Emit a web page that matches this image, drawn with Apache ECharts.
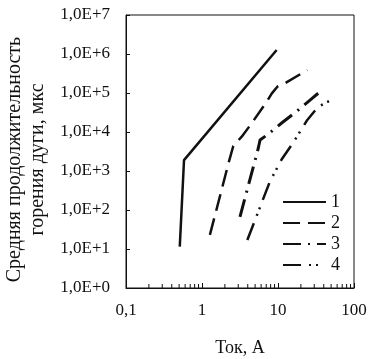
<!DOCTYPE html>
<html>
<head>
<meta charset="utf-8">
<script src="https://cdn.jsdelivr.net/npm/echarts@6/dist/echarts.min.js"></script>
<style>
  html, body { margin: 0; padding: 0; background: #fff; }
  #chart { width: 378px; height: 359px; }
</style>
</head>
<body>
<div id="chart"></div>
<script>
// data (current in A, mean arc duration in µs)
const names = ['1', '2', '3', '4']
const s1 = [[0.51, 11.5], [0.58, 1900], [9.6, 1.27e6]]
const s2 = [[1.27, 23], [2.29, 1910], [2.58, 4370], [3.33, 7600], [4.5, 16700],
    [7.1, 60000], [8.3, 98000], [9.8, 145000], [12.4, 178000], [24.3, 390000]]
const s3 = [[3.16, 67], [5.5, 3830], [5.8, 6230], [7.45, 8900], [11.5, 17800],
    [17.3, 33000], [26.4, 66000], [35.7, 108000]]
const s4 = [[3.95, 17], [7.8, 530], [11.2, 2000], [15.6, 5100], [24.3, 20400],
    [33.9, 44500], [52.5, 69000]]
const minorTicks = [0.2, 0.3, 0.4, 0.5, 0.6, 0.7, 0.8, 0.9,
    2, 3, 4, 5, 6, 7, 8, 9, 20, 30, 40, 50, 60, 70, 80, 90]

const font = 'Liberation Serif'
const ink = '#111'

function lineSeries(name, data, dash, width) {
    return {
        name: name,
        type: 'line',
        data: data,
        symbol: 'none',
        showSymbol: false,
        animation: false,
        lineStyle: { color: ink, width: width, type: dash, cap: 'butt' },
        itemStyle: { color: ink },
    }
}

var myChart = echarts.init(document.getElementById('chart'))
var option = {
    animation: false,
    grid: {
        left: 126, right: 24, top: 15, bottom: 71,
        outerBoundsMode: 'none',
        containLabel: false,
        show: true, borderColor: ink, borderWidth: 1,
    },
    xAxis: {
        type: 'log',
        logBase: 10,
        min: 0.1,
        max: 100,
        name: 'Ток, А',
        nameLocation: 'middle',
        nameGap: 51,
        nameTextStyle: { fontFamily: font, fontSize: 18, color: ink },
        axisLine: { lineStyle: { color: ink, width: 1 } },
        axisTick: { inside: true, length: 5, lineStyle: { color: ink } },
        splitLine: { show: false },
        axisLabel: {
            fontFamily: font, fontSize: 17, color: ink, margin: 14,
            formatter: function (v) { return String(+v.toPrecision(3)).replace('.', ',') },
        },
    },
    yAxis: {
        type: 'log',
        logBase: 10,
        min: 1,
        max: 1e7,
        splitNumber: 7,
        name: 'Средняя продолжительность\nгорения дуги, мкс',
        nameLocation: 'middle',
        nameGap: 73,
        nameTextStyle: {
            fontFamily: font, fontSize: 20, color: ink, lineHeight: 23,
            padding: [0, 16, 0, 0],
        },
        axisLine: { lineStyle: { color: ink, width: 1 } },
        axisTick: { inside: true, length: 4, lineStyle: { color: ink } },
        splitLine: { show: false },
        axisLabel: {
            fontFamily: font, fontSize: 17, color: ink, margin: 16,
            formatter: function (v) { return '1,0E+' + Math.round(Math.log10(v)) },
        },
    },
    legend: {
        data: names,
        orient: 'vertical',
        left: 282,
        top: 193,
        padding: 0,
        itemWidth: 43,
        itemHeight: 14,
        itemGap: 3,
        itemStyle: { opacity: 0 },
        textStyle: { fontFamily: font, fontSize: 18, lineHeight: 14, color: ink },
    },
    series: [
        lineSeries('1', s1, 'solid', 2.5),
        lineSeries('2', s2, [17, 8], 2.5),
        lineSeries('3', s3, [18, 7, 2, 7], 3),
        lineSeries('4', s4, [18, 8, 2, 5, 2, 8], 2.5),
        {
            type: 'custom',
            silent: true,
            data: minorTicks.map(function (v) { return [v, 1] }),
            renderItem: function (params, api) {
                var p = api.coord([api.value(0), 1])
                return {
                    type: 'line',
                    shape: { x1: p[0], y1: p[1], x2: p[0], y2: p[1] - 4 },
                    style: { stroke: ink, lineWidth: 1 },
                }
            },
        },
    ],
}

option && myChart.setOption(option)
</script>
</body>
</html>
